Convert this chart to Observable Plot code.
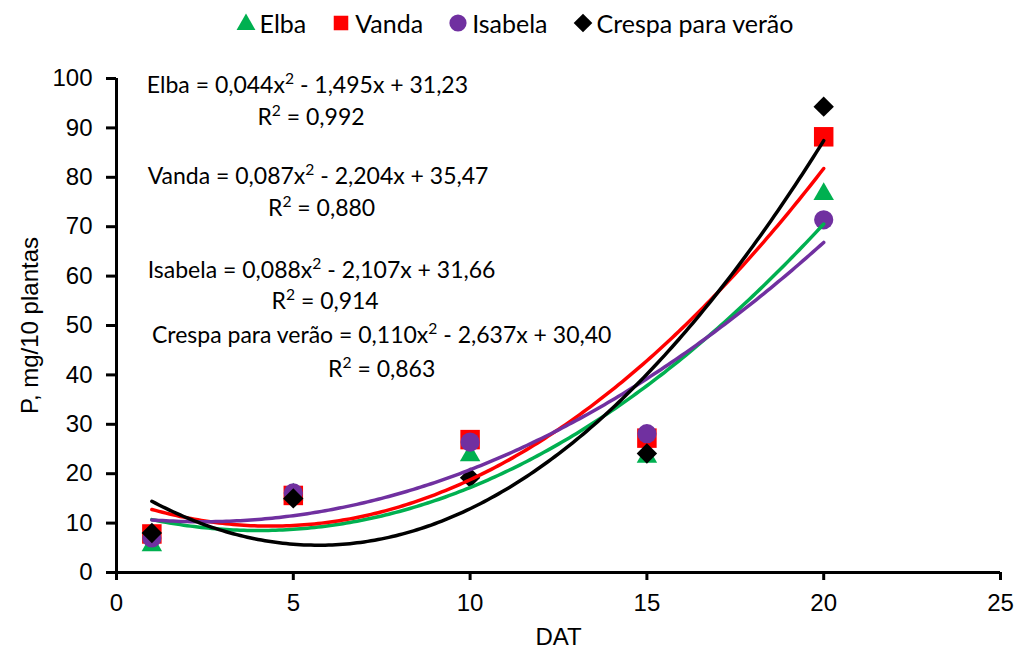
<!DOCTYPE html>
<html><head><meta charset="utf-8">
<script src="https://cdn.jsdelivr.net/npm/d3@7"></script>
<script src="https://cdn.jsdelivr.net/npm/@observablehq/plot@0.6"></script>
<style>
body{margin:0;background:#fff;width:1024px;height:652px;overflow:hidden}
#legend{height:45px;display:flex;justify-content:center;align-items:center;font-family:Lato,"Noto Sans",sans-serif;font-size:25px;color:#000;padding-left:4px;box-sizing:border-box}
.item{display:flex;align-items:center;margin:0 12px}
.item svg{margin-right:3px}
</style></head><body>
<div id="legend"></div><div id="chart"></div>
<script>
// ---- data ----
const dat = [1, 5, 10, 15, 20];
const elba = [5.5, 15.8, 23.7, 23.4, 76.6];
const vanda = [7.8, 15.6, 26.9, 27.2, 88.2];
const isabela = [7.0, 16.1, 26.4, 28.1, 71.4];
const crespa = [8.0, 15.0, 19.2, 24.1, 94.3];
const seriesNames = ["Elba", "Vanda", "Isabela", "Crespa para verão"];
const xTicks = [0, 5, 10, 15, 20, 25];
const yTicks = [0, 10, 20, 30, 40, 50, 60, 70, 80, 90, 100];
const equations = [
  "Elba = 0,044x² - 1,495x + 31,23", "R² = 0,992",
  "Vanda = 0,087x² - 2,204x + 35,47", "R² = 0,880",
  "Isabela = 0,088x² - 2,107x + 31,66", "R² = 0,914",
  "Crespa para verão = 0,110x² - 2,637x + 30,40", "R² = 0,863"
];
// annotation placement (data coords)
const eqX = [5.4, 5.5, 5.7, 5.8, 5.8, 5.9, 7.5, 7.5];
const eqY = [98.6, 92.1, 80.2, 73.7, 61.1, 54.9, 48.0, 41.1];

// ---- styling ----
const colors = ["#00B050", "#FF0000", "#7030A0", "#000000"];
const symbols = ["triangle", "square", "circle", "diamond2"];
const radii = [7.6, 11, 9.6, 9.2];

const values = [elba, vanda, isabela, crespa];
const rows = seriesNames.map((s, i) => dat.map((d, j) => ({series: s, dat: d, value: values[i][j]})));

// least-squares quadratic trendline (as in the spreadsheet's trendline)
function quadFit(xs, ys) {
  const s = [0,0,0,0,0], t = [0,0,0];
  xs.forEach((x, i) => { for (let k=0;k<5;k++) s[k]+=x**k; for (let k=0;k<3;k++) t[k]+=ys[i]*x**k; });
  const A = [[s[0],s[1],s[2],t[0]],[s[1],s[2],s[3],t[1]],[s[2],s[3],s[4],t[2]]];
  for (let c=0;c<3;c++){ for (let r=c+1;r<3;r++){ const f=A[r][c]/A[c][c]; for(let k=c;k<4;k++) A[r][k]-=f*A[c][k]; } }
  const b=[0,0,0];
  for (let r=2;r>=0;r--){ let v=A[r][3]; for(let k=r+1;k<3;k++) v-=A[r][k]*b[k]; b[r]=v/A[r][r]; }
  return b;
}
const curves = values.map((ys) => {
  const b = quadFit(dat, ys);
  return d3.range(dat[0], dat[dat.length-1] + 0.001, 0.1).map(x => ({x, y: b[0] + b[1]*x + b[2]*x*x}));
});

// ---- legend ----
const lg = document.getElementById("legend");
seriesNames.forEach((s, i) => {
  const it = document.createElement("div"); it.className = "item";
  const sym = d3.symbol(i===0 ? d3.symbolTriangle : i===1 ? d3.symbolSquare : i===2 ? d3.symbolCircle : d3.symbolDiamond2, Math.PI*[7.0,8.2,8.6,8.4][i]**2);
  it.innerHTML = `<svg width="22" height="22" viewBox="-11 -11 22 22"><path d="${sym()}" fill="${colors[i]}" transform="${i===0?'translate(0,1.5)':''}"/></svg><span>${s}</span>`;
  lg.appendChild(it);
});

// ---- chart ----
const marks = [];
rows.forEach((r, i) => marks.push(Plot.dot(r, {x: "dat", y: "value", symbol: () => symbols[i], fill: colors[i], r: radii[i], stroke: "none"})));
curves.forEach((c, i) => marks.push(Plot.line(c, {x: "x", y: "y", stroke: colors[i], strokeWidth: 3.5, curve: "linear"})));
marks.push(Plot.text(equations, {x: (d, i) => eqX[i], y: (d, i) => eqY[i], text: d => d, fontSize: 23, fontFamily: "Lato", fill: "#000", textAnchor: "middle"}));
marks.push(Plot.ruleY([0], {stroke: "#000", strokeWidth: 3}));
marks.push(Plot.ruleX([0], {stroke: "#000", strokeWidth: 3}));
marks.push(Plot.axisX({ticks: xTicks, tickSize: 8, tickPadding: 13, strokeWidth: 3, fontSize: 24, label: "DAT", labelAnchor: "center", labelArrow: "none", labelOffset: 72}));
marks.push(Plot.axisY({ticks: yTicks, tickSize: 10, tickPadding: 14, strokeWidth: 3, fontSize: 24, label: "P, mg/10 plantas", labelAnchor: "center", labelArrow: "none", labelOffset: 96}));

const chart = Plot.plot({
  width: 1024, height: 607,
  marginTop: 33, marginBottom: 80, marginLeft: 116, marginRight: 24,
  style: {fontFamily: "'Liberation Sans', Arial, sans-serif", color: "#000", background: "#fff", overflow: "visible"},
  x: {domain: [0, 25]},
  y: {domain: [0, 100]},
  symbol: {type: "identity"},
  marks
});
document.getElementById("chart").appendChild(chart);

// render the ² as a raised, smaller 2 like the original superscript
d3.select(chart).selectAll("text").each(function() {
  const el = this;
  if (el.children.length === 0 && el.textContent.includes("²")) {
    const parts = el.textContent.split("²");
    el.textContent = "";
    parts.forEach((p, k) => {
      if (p) el.appendChild(Object.assign(document.createElementNS("http://www.w3.org/2000/svg", "tspan"), {textContent: p}));
      if (k < parts.length - 1) {
        const sup = document.createElementNS("http://www.w3.org/2000/svg", "tspan");
        sup.textContent = "2";
        sup.setAttribute("font-size", "0.68em");
        sup.setAttribute("baseline-shift", "super");
        el.appendChild(sup);
      }
    });
  }
});
</script>
</body></html>
